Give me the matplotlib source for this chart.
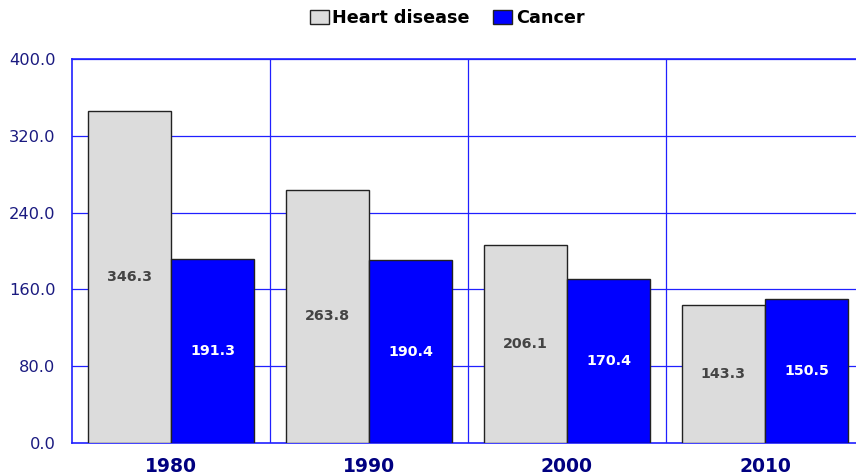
import numpy as np
import matplotlib
matplotlib.use('Agg')
import matplotlib.pyplot as plt
from matplotlib.patches import Patch

# data
years = ['1980', '1990', '2000', '2010']
heart = [346.3, 263.8, 206.1, 143.3]
cancer = [191.3, 190.4, 170.4, 150.5]
yticks = [0, 80, 160, 240, 320, 400]

grid_c = '#2020ff'
navy = '#000080'

fig = plt.figure(figsize=(8.56, 4.76), dpi=100)
# right edge of the axes runs past the figure like the original
ax = fig.add_axes([72/856, 33/476, 792/856, 384/476])

x = np.arange(len(years))
w = 0.42
b1 = ax.bar(x - w/2, heart, w, color='#dcdcdc', edgecolor='#222222', linewidth=1, zorder=3)
b2 = ax.bar(x + w/2, cancer, w, color='#0000ff', edgecolor='#222222', linewidth=1, zorder=3)

for r, v in zip(b1, heart):
    ax.text(r.get_x() + r.get_width()/2, v/2, f'{v:.1f}', ha='center', va='center',
            fontsize=10.3, fontweight='bold', color='#444444', zorder=4)
for r, v in zip(b2, cancer):
    ax.text(r.get_x() + r.get_width()/2, v/2, f'{v:.1f}', ha='center', va='center',
            fontsize=10.3, fontweight='bold', color='white', zorder=4)

ax.set_xlim(-0.5, len(years) - 0.5)
ax.set_ylim(0, 400)
ax.set_yticks(yticks)
ax.set_yticklabels([f'{t:.1f}' for t in yticks], fontsize=11.7, color='#1a1a80')
ax.set_xticks(x)
ax.set_xticklabels(years, fontsize=13.5, fontweight='bold', color=navy)
ax.tick_params(axis='y', length=0, pad=12)
ax.tick_params(axis='x', length=0, pad=10)

# gridlines: horizontal at ticks, vertical between groups
for t in yticks[1:]:
    ax.axhline(t, color=grid_c, lw=0.9, zorder=1)
for xb in x[:-1] + 0.5:
    ax.axvline(xb, color=grid_c, lw=0.9, zorder=1)

for s in ['left', 'bottom', 'top']:
    ax.spines[s].set_color(grid_c)
    ax.spines[s].set_linewidth(1.2)
ax.spines['right'].set_visible(False)

handles = [Patch(facecolor='#dcdcdc', edgecolor='#222222', label='Heart disease'),
           Patch(facecolor='#0000ff', edgecolor='#222222', label='Cancer')]
fig.legend(handles=handles, loc='center', bbox_to_anchor=(447/856, 1 - 18/476), ncol=2,
           frameon=False, prop={'weight': 'bold', 'size': 12.7},
           handlelength=1.1, handleheight=0.8, handletextpad=0.2, columnspacing=1.3)

fig.savefig('out.png', dpi=100)
